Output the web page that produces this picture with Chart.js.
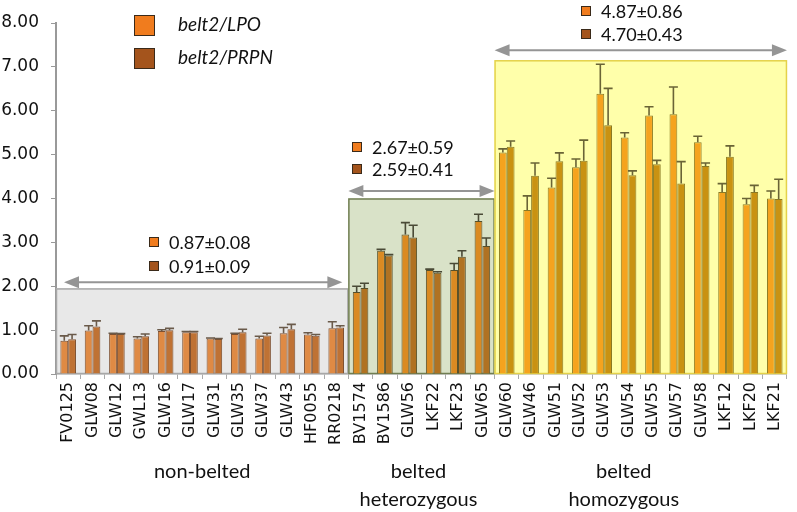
<!DOCTYPE html>
<html>
<head>
<meta charset="utf-8">
<script src="https://cdn.jsdelivr.net/npm/chart.js@4"></script>
<style>
  html, body { margin: 0; padding: 0; background: #fff; }
  #wrap { width: 797px; height: 512px; }
</style>
</head>
<body>
<div id="wrap"><canvas id="beltChart" width="797" height="512"></canvas></div>
<script>
// samples, in plotting order
const samples = ['FV0125', 'GLW08', 'GLW12', 'GWL13', 'GLW16', 'GLW17', 'GLW31', 'GLW35', 'GLW37', 'GLW43', 'HF0055', 'RR0218',
    'BV1574', 'BV1586', 'GLW56', 'LKF22', 'LKF23', 'GLW65',
    'GLW60', 'GLW46', 'GLW51', 'GLW52', 'GLW53', 'GLW54', 'GLW55', 'GLW57', 'GLW58', 'LKF12', 'LKF20', 'LKF21'];

// belt2/LPO relative expression and upper error
const lpoValues = [0.76, 0.99, 0.91, 0.81, 0.98, 0.95, 0.81, 0.91, 0.81, 0.93, 0.90, 1.04,
    1.87, 2.81, 3.18, 2.37, 2.37, 3.49,
    5.05, 3.74, 4.25, 4.71, 6.39, 5.39, 5.89, 5.92, 5.28, 4.15, 3.87, 4.00];
const lpoErrors = [0.11, 0.11, 0.02, 0.04, 0.03, 0.02, 0.01, 0.02, 0.05, 0.13, 0.04, 0.15,
    0.13, 0.03, 0.27, 0.02, 0.15, 0.15,
    0.08, 0.32, 0.21, 0.19, 0.67, 0.11, 0.20, 0.62, 0.14, 0.19, 0.13, 0.17];

// belt2/PRPN relative expression and upper error
const prpnValues = [0.79, 1.08, 0.91, 0.86, 1.00, 0.95, 0.80, 0.95, 0.88, 1.02, 0.87, 1.06,
    1.96, 2.70, 3.11, 2.31, 2.67, 2.92,
    5.18, 4.52, 4.85, 4.86, 5.67, 4.53, 4.78, 4.34, 4.74, 4.95, 4.15, 3.99];
const prpnErrors = [0.11, 0.13, 0.01, 0.05, 0.04, 0.02, 0.01, 0.07, 0.05, 0.11, 0.03, 0.04,
    0.11, 0.02, 0.28, 0.02, 0.14, 0.18,
    0.13, 0.29, 0.19, 0.47, 0.84, 0.10, 0.09, 0.50, 0.07, 0.25, 0.15, 0.45];

// groups: first/last sample index, label lines, shaded box top, arrow level, mean±sd texts
const groupNames = [['non-belted'], ['belted', 'heterozygous'], ['belted', 'homozygous']];
const groupStart = [0, 12, 18];
const groupEnd = [11, 17, 29];
const groupBoxTop = [1.95, 4.00, 7.15];
const groupArrowAt = [2.09, 4.17, 7.38];
const groupLpoText = ['0.87±0.08', '2.67±0.59', '4.87±0.86'];
const groupPrpnText = ['0.91±0.09', '2.59±0.41', '4.70±0.43'];

const yTicks = [0, 1, 2, 3, 4, 5, 6, 7, 8];

// styling per group
const boxFill = ['#e8e8e8', '#d9e2c8', '#ffffaa'];
const boxLine = ['#a8a8a8', '#707e52', '#e4d24a'];
const lpoFill = ['#df8a44', '#da8a22', '#f5a31e'];
const prpnFill = ['#bf7234', '#b07222', '#c99212'];
const barLine = ['#7e5030', '#56502a', '#8a7a24'];
const errColor = ['#6a5a4a', '#4a4a36', '#6a6436'];
// annotation placement (px): square x, row y's, label shift
const noteX = [149, 352, 581];
const noteY = [[242, 266], [147, 169], [11, 34]];
const labelShift = [0, -3, -17];

function groupOf(i) {
    for (let g = 0; g < groupStart.length; g++) {
        if (i >= groupStart[g] && i <= groupEnd[g]) return g;
    }
    return 0;
}

const lpoBg = samples.map((s, i) => lpoFill[groupOf(i)]);
const prpnBg = samples.map((s, i) => prpnFill[groupOf(i)]);
const borders = samples.map((s, i) => barLine[groupOf(i)]);

const groupBoxes = {
    id: 'groupBoxes',
    beforeDatasetsDraw(chart) {
        const ctx = chart.ctx;
        const x = chart.scales.x, y = chart.scales.y;
        const half = (x.getPixelForValue(1) - x.getPixelForValue(0)) / 2;
        ctx.save();
        groupStart.forEach((s, g) => {
            const left = x.getPixelForValue(s) - half;
            const right = x.getPixelForValue(groupEnd[g]) + half;
            const top = y.getPixelForValue(groupBoxTop[g]);
            const bottom = y.getPixelForValue(0);
            ctx.fillStyle = boxFill[g];
            ctx.fillRect(left, top, right - left, bottom - top);
            ctx.strokeStyle = boxLine[g];
            ctx.lineWidth = 1.5;
            ctx.strokeRect(left + 0.5, top + 0.5, right - left - 1, bottom - top - 1);
        });
        ctx.restore();
    }
};

const errorBars = {
    id: 'errorBars',
    afterDatasetsDraw(chart) {
        const ctx = chart.ctx;
        const y = chart.scales.y;
        const errs = [lpoErrors, prpnErrors];
        ctx.save();
        ctx.lineWidth = 1.6;
        chart.data.datasets.forEach((ds, d) => {
            chart.getDatasetMeta(d).data.forEach((bar, i) => {
                const top = y.getPixelForValue(ds.data[i] + errs[d][i]);
                ctx.strokeStyle = errColor[groupOf(i)];
                ctx.beginPath();
                ctx.moveTo(bar.x, bar.y);
                ctx.lineTo(bar.x, top);
                ctx.moveTo(bar.x - 4.5, top);
                ctx.lineTo(bar.x + 4.5, top);
                ctx.stroke();
            });
        });
        ctx.restore();
    }
};

function arrowHead(ctx, x, y, dir) {
    ctx.beginPath();
    ctx.moveTo(x, y);
    ctx.lineTo(x - dir * 15, y - 6);
    ctx.lineTo(x - dir * 15, y + 6);
    ctx.closePath();
    ctx.fill();
}

function noteSquare(ctx, x, y, color) {
    ctx.fillStyle = color;
    ctx.fillRect(x, y - 5, 10, 10);
    ctx.strokeStyle = '#3a2a1a';
    ctx.lineWidth = 1;
    ctx.strokeRect(x + 0.5, y - 4.5, 9, 9);
}

const annotations = {
    id: 'annotations',
    afterDraw(chart) {
        const ctx = chart.ctx;
        const x = chart.scales.x, y = chart.scales.y;
        const half = (x.getPixelForValue(1) - x.getPixelForValue(0)) / 2;
        ctx.save();
        groupStart.forEach((s, g) => {
            let left = x.getPixelForValue(s) - half;
            let right = x.getPixelForValue(groupEnd[g]) + half;
            const cx = (left + right) / 2 + labelShift[g];
            if (g === 0) { left += 8; right -= 6; }
            const ay = y.getPixelForValue(groupArrowAt[g]);
            ctx.strokeStyle = '#959595';
            ctx.fillStyle = '#959595';
            ctx.lineWidth = 2;
            ctx.beginPath();
            ctx.moveTo(left + 10, ay);
            ctx.lineTo(right - 10, ay);
            ctx.stroke();
            arrowHead(ctx, left, ay, -1);
            arrowHead(ctx, right, ay, 1);

            // mean ± sd notes
            noteSquare(ctx, noteX[g], noteY[g][0], '#f07c1e');
            noteSquare(ctx, noteX[g], noteY[g][1], '#a4541c');
            ctx.fillStyle = '#111';
            ctx.font = '18px Lato';
            ctx.textBaseline = 'middle';
            ctx.textAlign = 'left';
            ctx.fillText(groupLpoText[g], noteX[g] + 20, noteY[g][0] + 1);
            ctx.fillText(groupPrpnText[g], noteX[g] + 20, noteY[g][1] + 1);

            // group label under the sample names
            ctx.textAlign = 'center';
            ctx.font = '20px Lato';
            groupNames[g].forEach((line, k) => {
                ctx.fillText(line, cx, 472 + k * 28);
            });
        });

        // legend
        const legendText = ['belt2/LPO', 'belt2/PRPN'];
        const legendColor = ['#f07c1e', '#a4541c'];
        legendText.forEach((t, k) => {
            const ly = 25 + k * 33;
            ctx.fillStyle = legendColor[k];
            ctx.fillRect(134, ly - 10, 21, 21);
            ctx.strokeStyle = '#3a2a1a';
            ctx.lineWidth = 1;
            ctx.strokeRect(134.5, ly - 9.5, 20, 20);
            ctx.fillStyle = '#111';
            ctx.font = 'italic 19px Lato';
            ctx.textAlign = 'left';
            ctx.textBaseline = 'middle';
            ctx.fillText(t, 178, ly);
        });
        ctx.restore();
    }
};

new Chart(document.getElementById('beltChart'), {
    type: 'bar',
    data: {
        labels: samples,
        datasets: [{
            label: 'belt2/LPO',
            data: lpoValues,
            backgroundColor: lpoBg,
            borderColor: borders,
            borderWidth: 1
        }, {
            label: 'belt2/PRPN',
            data: prpnValues,
            backgroundColor: prpnBg,
            borderColor: borders,
            borderWidth: 1
        }]
    },
    options: {
        responsive: false,
        animation: false,
        devicePixelRatio: 1,
        categoryPercentage: 0.64,
        barPercentage: 1.0,
        layout: { padding: { top: 23, right: 2, left: 0, bottom: 0 } },
        plugins: {
            legend: { display: false },
            tooltip: { enabled: false }
        },
        scales: {
            x: {
                grid: { drawOnChartArea: false, offset: true, tickLength: 5, color: '#aaaaaa' },
                border: { color: '#aaaaaa', width: 1.5 },
                ticks: {
                    autoSkip: false,
                    minRotation: 90,
                    maxRotation: 90,
                    padding: 3,
                    color: '#111',
                    font: { family: 'DejaVu Sans', size: 16 }
                },
                afterFit(scale) { scale.height = 138; }
            },
            y: {
                min: 0,
                max: 8,
                afterBuildTicks(scale) { scale.ticks = yTicks.map(v => ({ value: v })); },
                grid: { drawOnChartArea: false, tickLength: 5, color: '#999999' },
                border: { color: '#999999', width: 2 },
                ticks: {
                    padding: 12,
                    color: '#111',
                    font: { family: 'DejaVu Sans', size: 17 },
                    callback: v => v.toFixed(2)
                },
                afterFit(scale) { scale.width = 56; }
            }
        }
    },
    plugins: [groupBoxes, errorBars, annotations]
});
</script>
</body>
</html>
